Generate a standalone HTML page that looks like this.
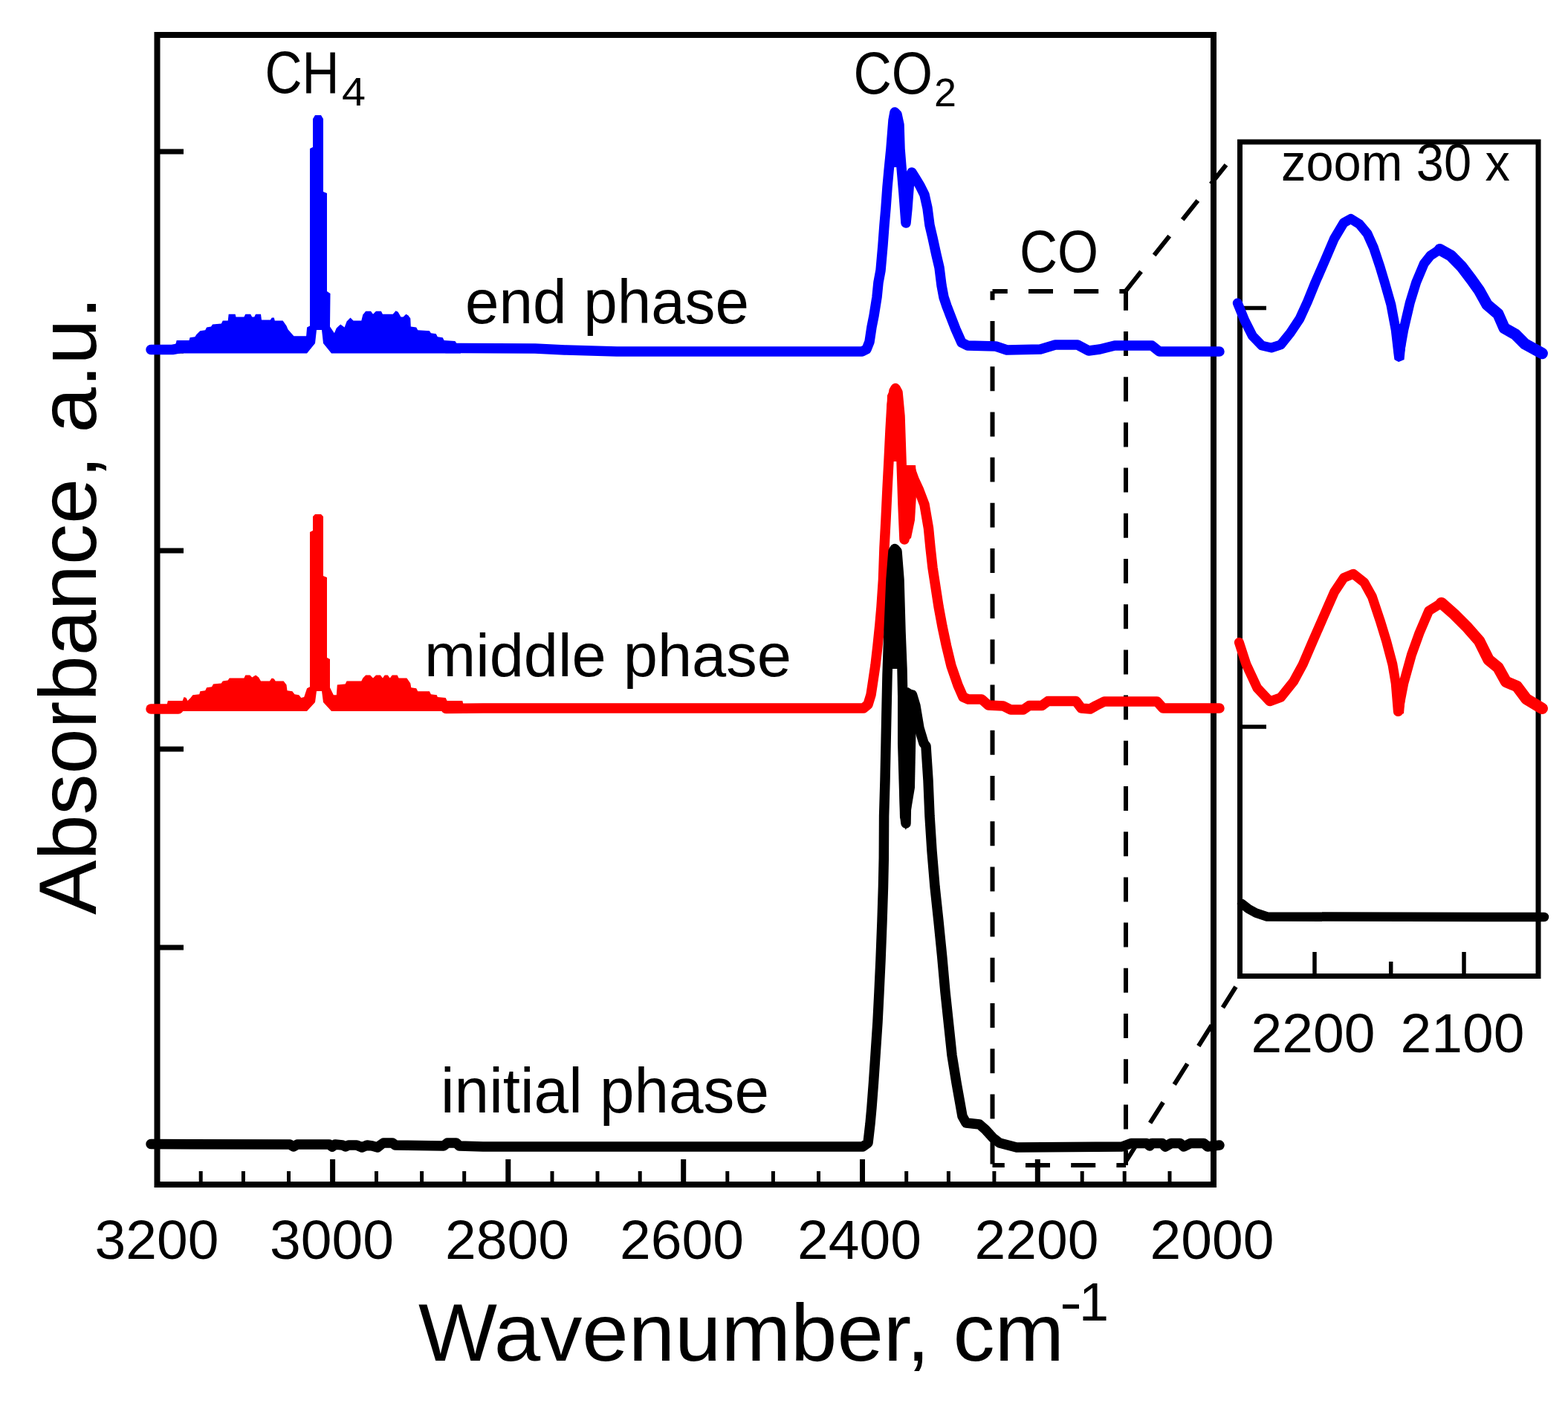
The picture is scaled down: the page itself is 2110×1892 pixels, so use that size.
<!DOCTYPE html>
<html><head><meta charset="utf-8"><title>IR spectra</title>
<style>
html,body{margin:0;padding:0;background:#fff;}
body{width:2110px;height:1892px;overflow:hidden;}
svg{display:block;}
text{font-family:"Liberation Sans",sans-serif;fill:#000;}
</style></head>
<body>
<svg width="2110" height="1892" viewBox="0 0 2110 1892">
<rect x="0" y="0" width="2110" height="1892" fill="#fff"/>
<rect x="211.5" y="47" width="1421.5" height="1547" fill="none" stroke="#000" stroke-width="8"/>
<line x1="211" y1="204" x2="247" y2="204" stroke="#000" stroke-width="7"/>
<line x1="211" y1="472" x2="247" y2="472" stroke="#000" stroke-width="7"/>
<line x1="211" y1="741" x2="247" y2="741" stroke="#000" stroke-width="7"/>
<line x1="211" y1="1008" x2="247" y2="1008" stroke="#000" stroke-width="7"/>
<line x1="211" y1="1275" x2="247" y2="1275" stroke="#000" stroke-width="7"/>
<line x1="270.2" y1="1594" x2="270.2" y2="1576" stroke="#000" stroke-width="5"/>
<line x1="327.4" y1="1594" x2="327.4" y2="1576" stroke="#000" stroke-width="5"/>
<line x1="388.5" y1="1594" x2="388.5" y2="1576" stroke="#000" stroke-width="5"/>
<line x1="447.6" y1="1594" x2="447.6" y2="1560" stroke="#000" stroke-width="7"/>
<line x1="506.5" y1="1594" x2="506.5" y2="1576" stroke="#000" stroke-width="5"/>
<line x1="567.6" y1="1594" x2="567.6" y2="1576" stroke="#000" stroke-width="5"/>
<line x1="624.7" y1="1594" x2="624.7" y2="1576" stroke="#000" stroke-width="5"/>
<line x1="683.8" y1="1594" x2="683.8" y2="1560" stroke="#000" stroke-width="7"/>
<line x1="743.0" y1="1594" x2="743.0" y2="1576" stroke="#000" stroke-width="5"/>
<line x1="804.0" y1="1594" x2="804.0" y2="1576" stroke="#000" stroke-width="5"/>
<line x1="861.2" y1="1594" x2="861.2" y2="1576" stroke="#000" stroke-width="5"/>
<line x1="919.7" y1="1594" x2="919.7" y2="1560" stroke="#000" stroke-width="7"/>
<line x1="978.8" y1="1594" x2="978.8" y2="1576" stroke="#000" stroke-width="5"/>
<line x1="1040.4" y1="1594" x2="1040.4" y2="1576" stroke="#000" stroke-width="5"/>
<line x1="1101.5" y1="1594" x2="1101.5" y2="1576" stroke="#000" stroke-width="5"/>
<line x1="1160.5" y1="1594" x2="1160.5" y2="1560" stroke="#000" stroke-width="7"/>
<line x1="1219.7" y1="1594" x2="1219.7" y2="1576" stroke="#000" stroke-width="5"/>
<line x1="1276.4" y1="1594" x2="1276.4" y2="1576" stroke="#000" stroke-width="5"/>
<line x1="1337.9" y1="1594" x2="1337.9" y2="1576" stroke="#000" stroke-width="5"/>
<line x1="1396.3" y1="1594" x2="1396.3" y2="1560" stroke="#000" stroke-width="7"/>
<line x1="1456.2" y1="1594" x2="1456.2" y2="1576" stroke="#000" stroke-width="5"/>
<line x1="1513.2" y1="1594" x2="1513.2" y2="1576" stroke="#000" stroke-width="5"/>
<line x1="1574.0" y1="1594" x2="1574.0" y2="1576" stroke="#000" stroke-width="5"/>
<text x="211.0" y="1694" font-size="75" text-anchor="middle">3200</text>
<text x="446.5" y="1694" font-size="75" text-anchor="middle">3000</text>
<text x="682.5" y="1694" font-size="75" text-anchor="middle">2800</text>
<text x="917.5" y="1694" font-size="75" text-anchor="middle">2600</text>
<text x="1156.5" y="1694" font-size="75" text-anchor="middle">2400</text>
<text x="1395.0" y="1694" font-size="75" text-anchor="middle">2200</text>
<text x="1631.0" y="1694" font-size="75" text-anchor="middle">2000</text>
<text x="563" y="1830.5" font-size="110" textLength="869" lengthAdjust="spacingAndGlyphs">Wavenumber, cm</text>
<text x="1426" y="1777" font-size="72" textLength="30" lengthAdjust="spacingAndGlyphs">-</text>
<text x="1452" y="1777" font-size="72">1</text>
<text transform="translate(128.6,1231) rotate(-90)" x="0" y="0" font-size="110" textLength="832" lengthAdjust="spacingAndGlyphs">Absorbance, a.u.</text>
<text x="356.5" y="125.2"  font-size="80" textLength="100" lengthAdjust="spacingAndGlyphs">CH</text>
<text x="460" y="141.6"  font-size="54" textLength="32" lengthAdjust="spacingAndGlyphs">4</text>
<text x="1148.5" y="126"  font-size="80" textLength="106.5" lengthAdjust="spacingAndGlyphs">CO</text>
<text x="1257" y="143"  font-size="54" textLength="30" lengthAdjust="spacingAndGlyphs">2</text>
<text x="1372" y="366"  font-size="80" textLength="106" lengthAdjust="spacingAndGlyphs">CO</text>
<text x="626" y="434.7"  font-size="84" textLength="382" lengthAdjust="spacingAndGlyphs">end phase</text>
<text x="571" y="910.4"  font-size="82" textLength="494" lengthAdjust="spacingAndGlyphs">middle phase</text>
<text x="593" y="1496.9"  font-size="85" textLength="442" lengthAdjust="spacingAndGlyphs">initial phase</text>
<text x="1724" y="243.4"  font-size="70" textLength="308" lengthAdjust="spacingAndGlyphs">zoom 30 x</text>
<line x1="1335.5" y1="392" x2="1335.5" y2="1568" stroke="#000" stroke-width="6" fill="none" stroke-dasharray="33 28.2" stroke-dashoffset="21.2"/>
<line x1="1515" y1="392" x2="1515" y2="1568" stroke="#000" stroke-width="6" fill="none" stroke-dasharray="33 28.2" stroke-dashoffset="7.2"/>
<line x1="1335.5" y1="392" x2="1515" y2="392" stroke="#000" stroke-width="6" fill="none" stroke-dasharray="33 28.2" stroke-dashoffset="12.7"/>
<line x1="1335.5" y1="1568" x2="1515" y2="1568" stroke="#000" stroke-width="6" fill="none" stroke-dasharray="33 28.2" stroke-dashoffset="16.7"/>
<line x1="1515" y1="391.3" x2="1668" y2="199.3" stroke="#000" stroke-width="6" fill="none" stroke-dasharray="33 28.2" stroke-dasharray="35 26.5"/>
<line x1="1515" y1="1563" x2="1668" y2="1320" stroke="#000" stroke-width="6" fill="none" stroke-dasharray="33 28.2" stroke-dasharray="34 27"/>
<rect x="1668.5" y="191" width="401.5" height="1122.5" fill="none" stroke="#000" stroke-width="7"/>
<line x1="1668" y1="414.4" x2="1704" y2="414.4" stroke="#000" stroke-width="5.5"/>
<line x1="1668" y1="978" x2="1704" y2="978" stroke="#000" stroke-width="5.5"/>
<line x1="1769" y1="1313" x2="1769" y2="1281" stroke="#000" stroke-width="5.5"/>
<line x1="1871.7" y1="1313" x2="1871.7" y2="1294" stroke="#000" stroke-width="5.5"/>
<line x1="1970" y1="1313" x2="1970" y2="1281" stroke="#000" stroke-width="5.5"/>
<text x="1767" y="1416" font-size="75" text-anchor="middle">2200</text>
<text x="1968" y="1416" font-size="75" text-anchor="middle">2100</text>
<polyline points="1665.3,407.7 1674.8,431.0 1685.4,452.0 1698.0,465.0 1710.8,468.0 1723.5,463.8 1736.3,448.0 1749.0,428.9 1759.6,405.6 1770.0,380.0 1782.9,350.5 1795.6,320.8 1808.3,299.7 1817.8,294.4 1829.5,301.8 1840.0,314.5 1848.5,333.5 1857.0,359.0 1863.3,380.0 1871.8,409.8 1878.2,443.7 1882.4,479.7 1888.8,443.7 1897.2,407.7 1905.7,380.0 1916.3,354.7 1924.8,344.0 1937.5,335.7 1952.3,344.0 1967.0,359.0 1979.9,376.0 1990.4,390.7 2001.0,409.8 2015.9,422.5 2024.3,441.6 2039.2,450.0 2051.9,462.8 2075.2,475.5" fill="none" stroke="#0000ff" stroke-width="13" stroke-linejoin="round" stroke-linecap="round" />
<polyline points="1667.4,864.4 1677.0,894.0 1691.8,925.8 1708.7,943.8 1723.5,938.5 1740.5,917.3 1753.2,894.0 1765.9,864.4 1780.7,830.5 1795.6,796.6 1808.3,777.5 1821.0,772.2 1835.8,783.9 1846.4,803.0 1857.0,834.7 1865.5,862.3 1873.9,894.0 1878.2,919.5 1881.4,957.6 1888.8,919.5 1899.4,881.3 1910.0,851.7 1922.7,822.0 1939.6,811.4 1956.5,826.3 1973.5,843.2 1990.4,862.3 2003.1,887.7 2015.9,898.3 2026.5,917.3 2041.3,923.7 2054.0,940.6 2075.2,953.3" fill="none" stroke="#ff0000" stroke-width="13" stroke-linejoin="round" stroke-linecap="round" />
<polyline points="1937.5,335.7 1952.3,344.0 1967.0,359.0 1979.9,376.0 1990.4,390.7 2001.0,409.8 2015.9,422.5 2024.3,441.6 2039.2,450.0 2051.9,462.8 2075.2,475.5" fill="none" stroke="#0000ff" stroke-width="15.5" stroke-linejoin="round" stroke-linecap="round" />
<polygon points="1873.0,436.0 1894.0,436.0 1889.5,484.0 1882.0,487.0 1876.5,484.0" fill="#0000ff" stroke="none"/>
<polygon points="1874.0,914.0 1893.0,914.0 1889.0,960.0 1882.0,963.0 1876.0,960.0" fill="#ff0000" stroke="none"/>
<polyline points="1939.6,811.4 1956.5,826.3 1973.5,843.2 1990.4,862.3 2003.1,887.7 2015.9,898.3 2026.5,917.3 2041.3,923.7 2054.0,940.6 2075.2,953.3" fill="none" stroke="#ff0000" stroke-width="15.5" stroke-linejoin="round" stroke-linecap="round" />
<polyline points="1671.0,1216.0 1680.0,1223.0 1690.0,1228.5 1705.0,1233.5 2000.0,1234.0 2078.0,1234.0" fill="none" stroke="#000000" stroke-width="12.5" stroke-linejoin="round" stroke-linecap="round" />
<polygon points="229.9,475.5 236.7,462.0 237.7,458.1 254.5,458.1 255.5,454.2 262.4,453.2 264.3,450.2 269.3,445.3 276.2,444.3 278.1,440.4 284.0,439.4 286.0,436.5 297.8,435.5 299.8,431.5 306.7,431.5 307.7,422.7 316.6,422.7 317.5,426.6 328.4,426.6 330.3,422.7 337.2,422.7 339.2,426.6 342.2,426.6 344.1,422.7 351.0,422.7 352.0,430.5 363.8,430.5 365.8,427.6 368.8,427.6 369.8,431.5 380.6,431.5 385.5,438.4 387.5,443.3 395.4,452.2 412.1,452.2 413.1,440.4 417.0,438.4 417.0,200.0 421.0,198.0 421.0,160.0 424.0,155.0 432.0,155.0 435.0,160.0 435.0,258.0 440.0,260.0 440.0,392.0 444.5,395.0 444.0,439.4 449.9,448.3 452.8,441.4 458.2,436.5 463.6,440.4 466.6,432.5 471.5,427.6 475.5,431.5 486.3,431.5 488.3,423.6 492.2,418.7 499.0,418.7 502.0,422.7 506.0,418.7 512.9,418.7 514.9,422.7 528.7,422.7 532.6,418.2 535.6,419.7 539.5,426.6 542.5,426.6 546.4,422.7 549.4,424.6 552.3,428.6 552.8,439.4 560.2,440.4 562.2,444.3 577.9,445.3 579.9,448.3 586.8,449.3 588.8,453.2 595.7,454.2 597.6,458.1 612.4,459.1 614.4,462.1 620.0,462.1 620.0,475.5 446.0,475.5 435.0,462.0 433.0,444.0 426.0,444.0 424.0,462.0 413.0,475.5" fill="#0000ff" stroke="none"/>
<polyline points="203.0,470.5 232.0,470.5 240.0,469.0" fill="none" stroke="#0000ff" stroke-width="13.5" stroke-linejoin="round" stroke-linecap="round" />
<polyline points="600.0,468.5 620.0,468.5 720.0,469.0 760.0,471.0 830.0,473.0 1160.0,473.0 1166.0,470.0 1170.0,460.0 1173.0,440.0 1176.0,425.0 1180.0,400.0 1182.0,380.0 1185.0,364.0 1188.0,330.0 1190.0,303.0 1192.0,280.0 1194.0,252.0 1196.0,230.0 1199.0,200.0 1202.0,162.0 1204.0,151.0 1207.0,154.0 1210.0,168.0 1211.0,200.0 1213.0,225.0 1216.0,260.0 1219.0,300.0 1221.0,280.0 1224.0,240.0 1227.0,232.0 1232.0,240.0 1238.0,250.0 1244.0,262.0 1248.0,280.0 1251.0,303.0 1255.0,320.0 1260.0,343.0 1264.0,360.0 1267.0,384.0 1270.0,400.0 1274.0,412.0 1279.0,425.0 1286.0,443.0 1294.0,461.0 1302.0,465.0 1340.0,466.0 1355.0,471.0 1400.0,470.0 1420.0,464.0 1450.0,464.0 1465.0,472.0 1480.0,470.0 1500.0,465.0 1550.0,465.0 1560.0,473.0 1641.0,473.0" fill="none" stroke="#0000ff" stroke-width="13.5" stroke-linejoin="round" stroke-linecap="round" />
<polygon points="1193.0,225.0 1198.0,156.0 1204.0,146.0 1211.0,154.0 1217.0,225.0" fill="#0000ff" stroke="none"/>
<polygon points="224.9,960.0 224.9,947.0 225.9,943.0 245.6,943.0 247.6,938.1 250.5,939.1 252.5,943.0 256.5,939.1 259.4,935.2 268.3,934.2 269.3,930.2 276.2,929.3 278.1,925.3 285.0,924.3 287.0,920.4 297.8,919.4 299.8,916.5 306.7,915.5 308.7,912.5 328.4,912.5 330.3,908.6 336.3,908.6 339.2,911.5 344.1,908.6 348.1,911.5 351.0,916.5 362.9,916.5 365.8,912.5 368.8,913.5 370.7,916.5 381.6,916.5 385.5,921.4 386.5,929.3 393.4,930.2 396.4,934.2 402.3,935.2 405.2,939.1 409.2,938.1 413.1,926.3 417.0,924.3 417.0,716.0 421.0,714.0 421.0,695.0 424.0,692.0 432.0,692.0 435.0,695.0 435.0,775.0 440.0,777.0 440.0,885.0 444.0,887.0 444.0,925.3 448.9,935.2 452.8,935.2 453.8,921.4 464.6,920.4 466.6,916.5 486.3,916.5 488.3,912.5 492.2,908.6 498.1,908.6 502.0,912.5 506.0,908.6 511.9,908.6 514.9,912.5 517.8,908.6 521.8,908.6 524.7,912.5 527.7,908.6 534.6,908.6 536.6,912.5 547.4,912.5 552.3,919.4 553.3,925.3 560.2,926.3 562.2,930.2 577.9,930.2 579.9,934.2 587.8,935.2 588.8,938.1 599.6,939.1 601.6,943.1 622.3,943.1 623.3,947.0 630.0,947.0 630.0,957.0 446.0,957.0 435.0,945.0 433.0,930.0 426.0,930.0 424.0,945.0 413.0,957.0 224.9,957.0" fill="#ff0000" stroke="none"/>
<polyline points="203.0,954.0 240.0,954.0" fill="none" stroke="#ff0000" stroke-width="13.5" stroke-linejoin="round" stroke-linecap="round" />
<polygon points="1210.0,626.0 1232.0,626.0 1234.0,650.0 1231.0,700.0 1226.0,724.0 1216.0,732.0 1210.0,700.0" fill="#ff0000" stroke="none"/>
<polyline points="600.0,953.4 650.0,953.0 1162.0,953.0 1168.0,948.0 1172.0,935.0 1174.0,922.0 1178.0,895.0 1181.0,869.0 1184.0,840.0 1186.0,817.0 1188.5,780.0 1190.0,737.0 1192.0,700.0 1194.0,658.0 1196.0,620.0 1198.0,579.0 1200.0,545.0 1203.0,526.0 1205.0,522.5 1208.0,528.0 1211.0,560.0 1213.0,620.0 1215.0,680.0 1217.0,726.0 1220.0,700.0 1224.0,640.0 1226.0,634.0 1230.0,645.0 1236.0,658.0 1244.0,679.0 1249.5,711.0 1252.0,737.0 1255.0,764.0 1259.0,790.0 1263.0,816.0 1268.0,843.0 1273.5,869.0 1280.0,896.0 1289.0,922.0 1296.0,938.0 1303.0,941.0 1321.0,941.0 1330.0,949.0 1350.0,950.0 1360.0,955.0 1377.0,955.0 1385.0,949.5 1402.0,949.5 1410.0,943.6 1448.0,943.6 1455.0,953.0 1467.0,954.0 1475.0,949.5 1486.0,944.0 1557.0,944.0 1565.0,953.0 1641.0,953.0" fill="none" stroke="#ff0000" stroke-width="13.5" stroke-linejoin="round" stroke-linecap="round" />
<polygon points="1191.0,621.0 1194.0,532.0 1201.0,518.0 1207.0,518.0 1213.0,532.0 1216.0,621.0" fill="#ff0000" stroke="none"/>
<polyline points="203.0,1539.5 390.0,1540.0 395.0,1543.0 400.0,1540.0 443.0,1540.0 447.0,1543.0 451.0,1540.0 461.0,1541.0 465.0,1543.0 469.0,1541.0 480.0,1541.0 487.0,1544.0 494.0,1541.0 501.0,1542.0 508.0,1544.0 513.0,1540.0 516.0,1538.0 528.0,1538.0 532.0,1541.0 597.0,1542.0 602.0,1538.0 614.0,1538.0 618.0,1542.0 650.0,1543.0 1161.0,1543.0 1168.0,1538.0 1171.0,1512.0 1173.0,1490.0 1175.5,1457.0 1178.0,1420.0 1181.0,1375.0 1183.0,1335.0 1185.0,1292.0 1187.0,1240.0 1188.5,1193.0 1189.3,1155.0 1189.6,1098.0 1191.0,1050.0 1192.0,1004.0 1193.0,955.0 1194.0,909.0 1196.0,850.0 1199.0,780.0 1202.0,742.0 1204.0,738.5 1207.0,742.0 1210.0,780.0 1212.0,850.0 1214.0,900.0 1216.0,1000.0 1218.0,1100.0 1219.0,1108.0 1221.0,1000.0 1224.0,950.0 1227.5,935.0 1232.0,950.0 1237.0,980.0 1243.0,1000.0 1246.0,1004.0 1249.0,1050.0 1251.0,1098.0 1254.0,1145.0 1258.0,1193.0 1263.0,1240.0 1267.7,1287.0 1272.0,1335.0 1277.0,1382.0 1281.0,1420.0 1287.0,1457.0 1292.0,1485.0 1295.0,1502.0 1300.0,1511.0 1318.0,1513.0 1326.0,1520.0 1336.0,1531.0 1345.0,1538.0 1368.0,1544.0 1510.0,1543.0 1522.0,1538.5 1543.0,1538.5 1547.0,1542.0 1550.0,1538.5 1564.0,1538.5 1568.0,1543.0 1576.0,1538.5 1588.0,1538.5 1593.0,1543.0 1602.0,1538.5 1620.0,1538.5 1625.0,1543.0 1641.0,1541.0" fill="none" stroke="#000000" stroke-width="13.5" stroke-linejoin="round" stroke-linecap="round" />
<polygon points="1193.0,900.0 1197.0,760.0 1203.0,733.0 1209.0,742.0 1215.0,900.0" fill="#000000" stroke="none"/>
<polygon points="1208.0,935.0 1222.0,925.0 1230.0,930.0 1233.0,960.0 1231.0,1060.0 1226.0,1090.0 1219.0,1117.0 1211.0,1100.0 1208.0,1000.0" fill="#000000" stroke="none"/>
</svg>
</body></html>
